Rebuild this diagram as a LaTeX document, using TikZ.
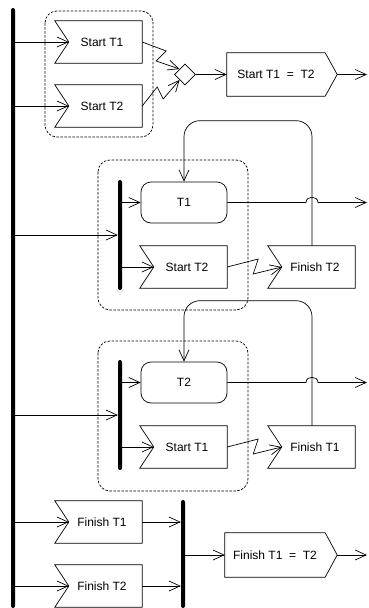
\documentclass[tikz,border=0pt]{standalone}
\usepackage{fontspec}
\setmainfont{Liberation Sans}
\usetikzlibrary{arrows.meta, positioning, shapes.geometric, calc}

\begin{document}
\begin{tikzpicture}[
        x=1pt, y=-1pt,
        >={Straight Barb[length=11pt,width=10pt]},
        font=\fontsize{12}{14}\selectfont,
        accept/.style={minimum width=80pt, minimum height=42pt, inner sep=0pt},
        sendsig/.style={minimum width=98pt, minimum height=43pt, inner sep=0pt},
        action/.style={draw, line width=0.7pt, rounded corners=10pt,
            minimum width=86pt, minimum height=41pt, inner sep=0pt},
        bar/.style={fill=black, rounded corners=2pt, minimum width=4pt, inner sep=0pt},
        container/.style={draw, line width=0.7pt, dash pattern=on 2.5pt off 1.5pt,
            rounded corners=12pt},
        outline/.style={draw, line width=0.7pt},
        line/.style={draw, line width=0.7pt, ->},
    ]
        \useasboundingbox (0,0) rectangle (368,608);

        \node[bar, minimum height=600pt] (mainbar) at (13,308) {};

        % start both
        \node[accept] (st1a) at (102,42) {Start T1};
        \node[accept] (st2a) at (102,106) {Start T2};
        \node[outline, diamond, minimum size=21pt, inner sep=0pt] (merge) at (185,74.5) {};
        \node[sendsig] (sendst) at (276,74.5) {Start T1 \ = \ T2};
        \coordinate (out1) at (367,74.5);

        % T1 then T2
        \node[bar, minimum height=110pt] (fork1) at (120,235) {};
        \node[action] (t1) at (184,202.5) {T1};
        \node[accept] (st2b) at (187,267) {Start T2};
        \node[accept] (fin2) at (315,267) {Finish T2};
        \coordinate (hop1) at (312,202.5);
        \coordinate (out2) at (367,202.5);

        % T2 then T1
        \node[bar, minimum height=110pt] (fork2) at (120,415) {};
        \node[action] (t2) at (184,382.5) {T2};
        \node[accept] (st1b) at (187,447) {Start T1};
        \node[accept] (fin1) at (315,447) {Finish T1};
        \coordinate (hop2) at (312,382.5);
        \coordinate (out3) at (367,382.5);

        % finish both
        \node[accept] (fin1c) at (102,522) {Finish T1};
        \node[accept] (fin2c) at (102,586) {Finish T2};
        \node[bar, minimum height=108pt] (join) at (183,554) {};
        \node[sendsig, minimum width=100pt, minimum height=44pt] (sendfin) at (275,555)
            {Finish T1 \ = \ T2};
        \coordinate (out4) at (367,555);

        \foreach \n in {st1a, st2a, st2b, fin2, st1b, fin1, fin1c, fin2c}
            \path[outline] ([xshift=-7pt]\n.north west) -- (\n.north east) -- (\n.south east)
                -- ([xshift=-7pt]\n.south west) -- ([xshift=7pt]\n.west) -- cycle;
        \foreach \n in {sendst, sendfin}
            \path[outline] (\n.north west) -- (\n.north east) -- ([xshift=12pt]\n.east)
                -- (\n.south east) -- (\n.south west) -- cycle;

        \draw[container] (45,11) rectangle (153,137);
        \draw[container] (98,160) rectangle (248,310);
        \draw[container] (98,341) rectangle (248,491);

        \foreach \n in {st1a, st2a, fin1c, fin2c}
            \path[line] (mainbar.east |- \n.west) -- ([xshift=7pt]\n.west);
        \foreach \f/\a/\s in {fork1/t1/st2b, fork2/t2/st1b} {
            \path[line] (mainbar.east |- \f.west) -- (\f.west);
            \path[line] (\f.east |- \a.west) -- (\a.west);
            \path[line] (\f.east |- \s.west) -- ([xshift=7pt]\s.west);
        }

        \path[line] (st1a.east) -- ++(24,9) -- ++(-10,10) -- (merge.north west);
        \path[line] (st2a.east) -- ++(15,-19) -- ++(6,12) -- (merge.south west);
        \path[line] (merge.east) -- (sendst.west);
        \path[line] ([xshift=12pt]sendst.east) -- (out1);

        \foreach \s/\f/\a/\h/\o in {st2b/fin2/t1/hop1/out2, st1b/fin1/t2/hop2/out3} {
            \path[line] (\s.east) -- ++(31,-8) -- ++(-5,15) -- ([xshift=7pt]\f.west);
            \path[line, rounded corners=16pt] ([xshift=-3pt]\f.north)
                |- ($(\a.north)+(0,-61)$) -- (\a.north);
            \path[line] (\a.east) -- ([xshift=-6pt]\h)
                .. controls ([xshift=-6pt,yshift=7pt]\h) and ([xshift=6pt,yshift=7pt]\h)
                .. ([xshift=6pt]\h) -- (\o);
        }

        \path[line] (fin1c.east) -- (join.west |- fin1c.east);
        \path[line] (fin2c.east) -- (join.west |- fin2c.east);
        \path[line] (join.east |- sendfin.west) -- (sendfin.west);
        \path[line] ([xshift=12pt]sendfin.east) -- (out4);
    \end{tikzpicture}
\end{document}
